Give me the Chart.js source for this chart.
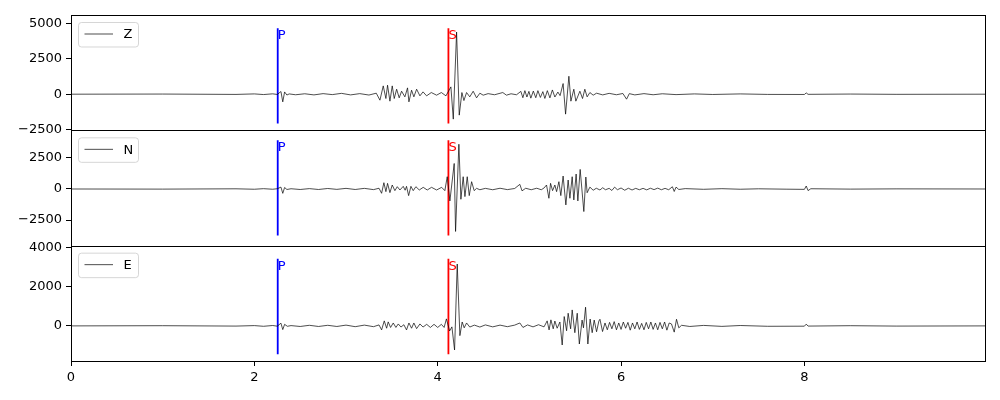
<!DOCTYPE html>
<html>
<head>
<meta charset="utf-8">
<script src="https://cdn.jsdelivr.net/npm/chart.js@4"></script>
<style>body{margin:0;background:#fff}</style>
</head>
<body>
<canvas id="seisCanvas" width="1000" height="400"></canvas>
<script>
const channels = ['Z', 'N', 'E'];

// Z component: time (s) / amplitude
const zT = [0, 1.0, 1.8, 2.0, 2.1, 2.2, 2.25, 2.29, 2.31, 2.33, 2.355, 2.38, 2.45, 2.55, 2.65, 2.75, 2.85, 2.95, 3.05, 3.15, 3.25, 3.33,
  3.37, 3.406, 3.435, 3.453, 3.479, 3.504, 3.526, 3.552, 3.58, 3.606, 3.642, 3.671, 3.686, 3.715, 3.74, 3.77, 3.806, 3.84, 3.879, 3.93, 3.988, 4.04, 4.09,
  4.144, 4.17, 4.206, 4.235, 4.264, 4.286, 4.315, 4.35, 4.387, 4.424, 4.46, 4.496, 4.55, 4.62, 4.71, 4.75, 4.8, 4.86,
  4.907, 4.929, 4.951, 4.973, 4.995, 5.016, 5.043, 5.07, 5.093, 5.12, 5.147, 5.169, 5.196, 5.224, 5.251, 5.278, 5.311, 5.335,
  5.368, 5.395, 5.431, 5.453, 5.485, 5.507, 5.551, 5.58, 5.605, 5.63, 5.66, 5.696, 5.733, 5.8, 5.87, 5.95, 6.02, 6.06, 6.09,
  6.15, 6.25, 6.35, 6.45, 6.6, 6.8, 7.0, 7.3, 7.6, 8.0, 8.02, 8.04, 8.5, 9.0, 9.97];
const zA = [0, 10, -15, 20, -25, 25, -20, 190, -540, 160, -60, 20, -40, 30, -50, 40, -30, 60, -50, 40, -60, 70,
  -422, 586, -305, 634, -493, 586, -305, 352, -258, 211, -188, 446, -540, 282, -188, 352, -117, 164, -117, 117, -70, 117, -117,
  516, -1760, 4386, -1478, 117, -450, 117, -188, 211, -258, 70, -70, 40, -40, 117, -70, 30, -40,
  200, -250, 250, -200, 200, -280, 220, -250, 250, -230, 180, -300, 250, -260, 300, -200, 150, -100,
  751, -1408, 1267, -493, 352, -493, 211, -305, 352, -188, 117, -70, 70, -50, 60, -40, 50, -352, 40,
  -50, 40, -40, 30, -30, 20, -20, 20, -15, -20, 90, -10, 10, -10, 0];

// N component
const nT = [0, 1.0, 1.8, 2.0, 2.1, 2.2, 2.25, 2.29, 2.31, 2.33, 2.355, 2.4, 2.5, 2.6, 2.7, 2.8, 2.9, 3.0, 3.1, 3.2, 3.3, 3.36,
  3.388, 3.413, 3.435, 3.453, 3.479, 3.504, 3.533, 3.559, 3.588, 3.624, 3.645, 3.66, 3.683, 3.708, 3.733, 3.762, 3.799, 3.842, 3.886, 3.933, 3.988, 4.043, 4.078,
  4.104, 4.133, 4.18, 4.195, 4.231, 4.253, 4.278, 4.297, 4.322, 4.344, 4.37, 4.398, 4.424, 4.46, 4.52, 4.6, 4.68, 4.76, 4.84, 4.896, 4.92,
  4.96, 5.02, 5.08, 5.13, 5.16, 5.187, 5.213, 5.231, 5.253, 5.278, 5.297, 5.322, 5.343, 5.368, 5.398, 5.423, 5.442, 5.467, 5.485,
  5.51, 5.529, 5.554, 5.594, 5.616, 5.63, 5.66, 5.696, 5.73, 5.77, 5.8, 5.83, 5.87, 5.9, 5.93, 5.96, 6.0, 6.04, 6.08, 6.12, 6.16,
  6.2, 6.24, 6.28, 6.32, 6.36, 6.4, 6.44, 6.48, 6.52, 6.56, 6.58, 6.6, 6.63, 6.7, 6.9, 7.1, 7.3, 7.5, 7.8, 8.0, 8.02, 8.04, 8.07, 8.5, 9.0, 9.97];
const nA = [0, -10, 15, -20, 25, -20, 20, 150, -350, 120, -40, 20, -40, 30, -40, 40, -30, 50, -40, 50, -50, 60,
  -346, 506, -213, 453, -293, 320, -133, 186, -80, 213, -100, 213, -533, 213, -133, 186, -80, 133, -80, 133, -80, 133, -133,
  986, -959, 2050, -3410, 3596, -826, 986, -613, 986, -533, 586, -133, 53, -60, 50, -60, 60, -50, 40, 373, -150,
  60, -60, 60, -60, 80, 320, -746, 453, -133, 320, -213, 586, -533, 1040, -1280, 720, -746, 986, -880,
  1200, -959, 1573, -1813, 960, -300, 150, -100, 60, -80, 100, -60, 50, -120, 150, -60, 80, -100, 60, -80, 50,
  -60, 50, -70, 60, -50, 70, -60, 50, -60, 180, -200, 150, -40, 30, -25, 25, -20, 15, -15, -30, 240, -130, 20, -10, 10, 0];

// E component
const eT = [0, 1.0, 1.8, 2.0, 2.1, 2.2, 2.25, 2.29, 2.31, 2.33, 2.36, 2.4, 2.5, 2.6, 2.7, 2.8, 2.9, 3.0, 3.1, 3.2, 3.3, 3.36,
  3.388, 3.417, 3.443, 3.46, 3.486, 3.515, 3.544, 3.57, 3.599, 3.631, 3.66, 3.686, 3.715, 3.74, 3.77, 3.806, 3.84, 3.88, 3.92, 3.96, 4.0, 4.04, 4.07,
  4.095, 4.13, 4.155, 4.184, 4.213, 4.242, 4.267, 4.289, 4.315, 4.35, 4.4, 4.46, 4.52, 4.6, 4.68, 4.76, 4.84, 4.896, 4.93, 4.98, 5.04, 5.1, 5.16,
  5.194, 5.215, 5.235, 5.26, 5.278, 5.303, 5.333, 5.358, 5.38, 5.406, 5.423, 5.45, 5.467, 5.496, 5.522, 5.545, 5.575, 5.59, 5.613, 5.638,
  5.663, 5.685, 5.707, 5.733, 5.758, 5.77, 5.798, 5.825, 5.85, 5.875, 5.9, 5.925, 5.95, 5.975, 6.0, 6.025, 6.05, 6.075, 6.1, 6.125, 6.15,
  6.175, 6.2, 6.225, 6.25, 6.275, 6.3, 6.325, 6.35, 6.375, 6.4, 6.425, 6.45, 6.475, 6.5, 6.525, 6.55, 6.58, 6.605, 6.63, 6.66, 6.75, 6.9,
  7.1, 7.3, 7.6, 8.0, 8.02, 8.04, 8.5, 9.0, 9.97];
const eA = [0, 10, -10, 15, -20, 20, -15, 140, -190, 80, -20, 15, -30, 30, -30, 30, -30, 40, -40, 40, -40, 50,
  -206, 258, -120, 206, -80, 150, -80, 100, -60, 60, -206, 150, -120, 150, -140, 100, -60, 80, -80, 80, -80, 80, -80,
  360, -260, -50, -1236, 3176, -500, 200, -100, 150, -60, 40, -60, 50, -50, 40, -40, 40, 150, -80, 50, -50, 60, -50,
  258, -206, 310, -150, 250, -120, 200, -980, 480, -250, 650, -150, 820, -350, 650, -930, 300, -100, 960, -930,
  350, -350, 300, -300, 250, 340, -290, 150, -200, 180, -150, 220, -200, 150, -180, 200, -120, 180, -220, 150, -150,
  200, -180, 130, -200, 180, -150, 200, -180, 150, -200, 180, -150, 200, -220, 150, 100, -320, 340, -100, 30, -30, 25,
  -25, 20, -20, -15, 90, -10, 10, -10, 0];

const traceTimes = [zT, nT, eT];
const traceAmps = [zA, nA, eA];

const yMin = [-2550, -4553, -1802];
const yMax = [5588, 4712, 4118];
const yTicks = [[-2500, 0, 2500, 5000], [-2500, 0, 2500], [0, 2000, 4000]];
const xTicks = [0, 2, 4, 6, 8];
const xMax = 9.97;

const pickNames = ['P', 'S'];
const pickTimes = [2.255, 4.117];
const pickLo = [-2075, -3730, -1457];
const pickHi = [4646, 3914, 3449];

const FONT = 'DejaVu Sans';
const pickColor = {P: 'blue', S: 'red'};

let datasets = [];
let scales = {
    x: {
        type: 'linear', min: 0, max: xMax,
        afterBuildTicks: s => { s.ticks = xTicks.map(v => ({value: v})); },
        afterFit: s => { s.height = 39; },
        grid: {drawOnChartArea: false, tickLength: 5, tickColor: '#000'},
        border: {display: true, color: '#000'},
        ticks: {color: '#000', font: {family: FONT, size: 13}, padding: 4, maxRotation: 0}
    }
};

// stacked axes are laid out bottom-up, so add E first and Z last
for (let i = 2; i >= 0; i--) {
    let id = 'y' + i;
    scales[id] = {
        type: 'linear', position: 'left', stack: 'panels', stackWeight: 1,
        min: yMin[i], max: yMax[i],
        afterBuildTicks: s => { s.ticks = yTicks[i].map(v => ({value: v})); },
        afterFit: s => { s.width = 71; },
        grid: {drawOnChartArea: false, tickLength: 5, tickColor: '#000'},
        border: {display: true, color: '#000'},
        ticks: {color: '#000', font: {family: FONT, size: 13}, padding: 4,
            callback: v => String(v).replace('-', '\u2212')}
    };
}

for (let i = 0; i < 3; i++) {
    let id = 'y' + i;
    datasets.push({
        label: channels[i],
        yAxisID: id,
        data: traceTimes[i].map((t, k) => ({x: t, y: traceAmps[i][k]})),
        borderColor: '#000', borderWidth: 0.7,
        pointRadius: 0, tension: 0
    });
    for (let p = 0; p < pickNames.length; p++) {
        datasets.push({
            label: pickNames[p],
            pick: true,
            yAxisID: id,
            data: [{x: pickTimes[p], y: pickLo[i]}, {x: pickTimes[p], y: pickHi[i]}],
            borderColor: pickColor[pickNames[p]], borderWidth: 1.8,
            pointRadius: 0
        });
    }
}

// panel frames, legends and pick labels
const panelDecor = {
    id: 'panelDecor',
    afterDatasetsDraw(chart) {
        const ctx = chart.ctx;
        const area = chart.chartArea;
        ctx.save();
        chart.data.datasets.forEach(ds => {
            const sc = chart.scales[ds.yAxisID];
            if (ds.pick) {
                const x = chart.scales.x.getPixelForValue(ds.data[1].x);
                const y = sc.getPixelForValue(ds.data[1].y);
                ctx.fillStyle = ds.borderColor;
                ctx.font = '13px ' + FONT;
                ctx.textAlign = 'left';
                ctx.textBaseline = 'alphabetic';
                ctx.fillText(ds.label, x, y + 11);
                return;
            }
            // frame
            const top = Math.round(sc.top), bottom = Math.round(sc.bottom);
            ctx.strokeStyle = '#000';
            ctx.lineWidth = 1;
            ctx.strokeRect(Math.round(area.left) + 0.5, top + 0.5,
                Math.round(area.right - area.left), bottom - top);
            // legend
            const bx = area.left + 7.5, by = sc.top + 7.5;
            ctx.beginPath();
            ctx.roundRect(bx, by, 60, 24.5, 3);
            ctx.fillStyle = 'rgba(255,255,255,0.8)';
            ctx.fill();
            ctx.strokeStyle = 'rgba(204,204,204,0.8)';
            ctx.stroke();
            ctx.beginPath();
            ctx.moveTo(bx + 6, by + 11.5);
            ctx.lineTo(bx + 34.5, by + 11.5);
            ctx.strokeStyle = '#000';
            ctx.lineWidth = 0.7;
            ctx.stroke();
            ctx.fillStyle = '#000';
            ctx.font = '13px ' + FONT;
            ctx.textAlign = 'left';
            ctx.textBaseline = 'middle';
            ctx.fillText(ds.label, bx + 45, by + 12.5);
        });
        ctx.restore();
    }
};

new Chart(document.getElementById('seisCanvas').getContext('2d'), {
    type: 'line',
    data: {datasets: datasets},
    options: {
        responsive: false,
        animation: false,
        devicePixelRatio: 1,
        layout: {padding: {top: 15, right: 15, left: 0, bottom: 0}},
        plugins: {legend: {display: false}, tooltip: {enabled: false}},
        scales: scales
    },
    plugins: [panelDecor]
});
</script>
</body>
</html>
